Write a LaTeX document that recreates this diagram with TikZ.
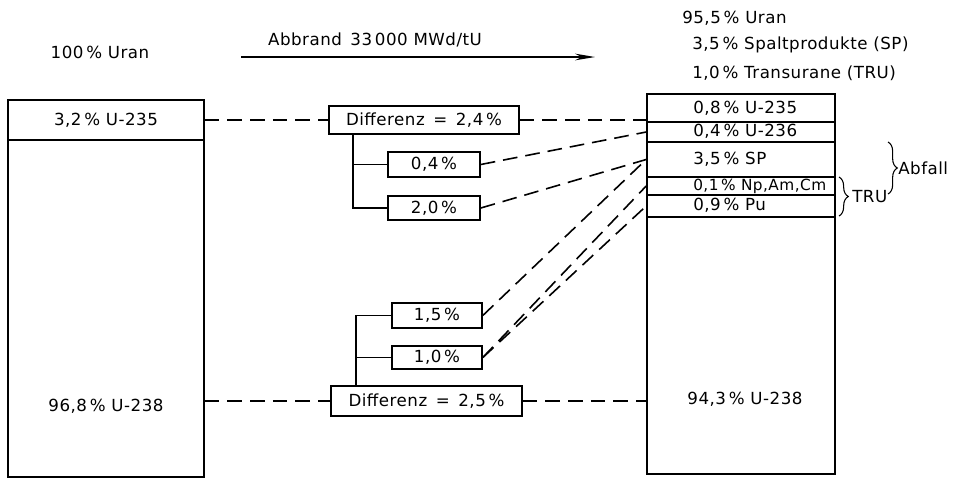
\documentclass[tikz,border=0pt]{standalone}
\usepackage{fontspec}
\setmainfont[LetterSpace=3]{DejaVu Sans}
\usepackage{tikz}
\usetikzlibrary{arrows.meta}
\usetikzlibrary{calc}
\usetikzlibrary{decorations.pathreplacing}

\begin{document}
\begin{tikzpicture}
\tikzstyle{txt} = [font=\fontsize{12.5}{14}\selectfont, inner sep=0pt]
\tikzstyle{cell} = [draw, line width=1.2pt, rectangle, inner sep=0pt, font=\fontsize{12.5}{14}\selectfont]
\tikzstyle{dsh} = [line width=1.2pt, dash pattern=on 11pt off 6pt]
\tikzstyle{ln} = [line width=1.2pt]

\begin{scope}[x=0.75pt,y=-0.75pt]
\useasboundingbox (0,0) rectangle (958,479);

% Ausgangszustand
\draw(106,120) node[cell,minimum width=147pt,minimum height=30pt]      (l235) {3,2\,\% U-235};
\draw(106,308.5) node[cell,minimum width=147pt,minimum height=252.75pt] (l238) {};
\draw(106,406) node[txt]                                                (tl238) {96,8\,\% U-238};

% Endzustand
\draw(741,108) node[cell,minimum width=141pt,minimum height=21pt]      (r235) {};
\draw(741,132) node[cell,minimum width=141pt,minimum height=15pt]      (r236) {};
\draw(741,159.5) node[cell,minimum width=141pt,minimum height=26.25pt] (rsp) {};
\draw(741,186) node[cell,minimum width=141pt,minimum height=13.5pt]    (rnp) {};
\draw(741,206) node[cell,minimum width=141pt,minimum height=16.5pt]    (rpu) {};
\draw(741,345.5) node[cell,minimum width=141pt,minimum height=192.75pt] (r238) {};

\draw(693,108) node[txt,anchor=west]   (tr235) {0,8\,\% U-235};
\draw(693,131) node[txt,anchor=west]   (tr236) {0,4\,\% U-236};
\draw(693,159) node[txt,anchor=west]   (trsp) {3,5\,\% SP};
\draw(693,186) node[txt,anchor=west,font=\fontsize{11.5}{14}\selectfont] (trnp) {0,1\,\% Np,Am,Cm};
\draw(693,205) node[txt,anchor=west]   (trpu) {0,9\,\% Pu};
\draw(745,399) node[txt]               (tr238) {94,3\,\% U-238};

% Differenzen
\draw(424,120) node[cell,minimum width=142.5pt,minimum height=21pt]   (diff1) {Differenz\, =\, 2,4\,\%};
\draw(434,164.5) node[cell,minimum width=69pt,minimum height=18.75pt] (b04) {0,4\,\%};
\draw(434,208) node[cell,minimum width=69pt,minimum height=18pt]      (b20) {2,0\,\%};
\draw(437,315.5) node[cell,minimum width=67.5pt,minimum height=18.75pt] (b15) {1,5\,\%};
\draw(437,357.5) node[cell,minimum width=67.5pt,minimum height=17.25pt] (b10) {1,0\,\%};
\draw(426.5,401) node[cell,minimum width=143.25pt,minimum height=22.5pt] (diff2) {Differenz\, =\, 2,5\,\%};

\coordinate (t1) at (353,134);
\coordinate (t2) at (356,386);
\draw[ln] (t1) |- (b20.west);
\draw[ln] (t1 |- b04.west) -- (b04.west);
\draw[ln] (t2) |- (b15.west);
\draw[ln] (t2 |- b10.west) -- (b10.west);

\draw[dsh] (l235.east |- diff1.west) -- (diff1.west);
\draw[dsh] (diff1.east) -- (diff1.east -| r235.west);
\draw[dsh] (b04.east) -- (r236.west);
\draw[dsh] (b20.east) -- (rsp.west);
\draw[dsh] (b15.east) -- (rsp.west);
\draw[dsh] (b10.east) -- (rnp.west);
\draw[dsh] (b10.east) -- (rpu.west);
\draw[dsh] (l238.east |- diff2.west) -- (diff2.west);
\draw[dsh] (diff2.east) -- (diff2.east -| r238.west);

% Kopfzeilen
\draw(100,52) node[txt]                (uran0) {100\,\% Uran};
\draw(375,40) node[txt]                (abbr) {Abbrand\, 33\,000 MWd/tU};
\coordinate (a0) at (241,57);
\coordinate (a1) at (595,57);
\draw[ln,-{Stealth[length=15pt,width=5pt]}] (a0) -- (a1);
\draw(682,18) node[txt,anchor=west]    (uran1) {95,5\,\% Uran};
\draw(692,45) node[txt,anchor=west]    (sp) {3,5\,\% Spaltprodukte (SP)};
\draw(692,73) node[txt,anchor=west]    (tru) {1,0\,\% Transurane (TRU)};

% Klammern
\coordinate (k1a) at (888,142);
\coordinate (k1b) at (888,194);
\coordinate (k2a) at (839,177);
\coordinate (k2b) at (839,216);
\draw[line width=0.8pt,decorate,decoration={brace,amplitude=7pt}] (k1a) -- (k1b);
\draw[line width=0.8pt,decorate,decoration={brace,amplitude=7pt}] (k2a) -- (k2b);
\draw(898,168) node[txt,anchor=west]   (abf) {Abfall};
\draw(852,197) node[txt,anchor=west]   (trub) {TRU};

\end{scope}
\end{tikzpicture}
\end{document}
